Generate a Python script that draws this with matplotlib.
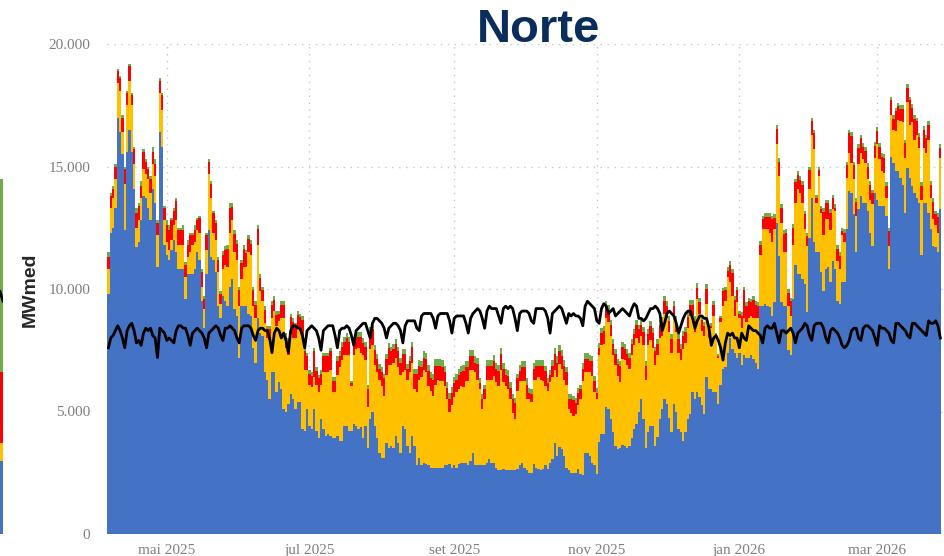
import numpy as np
import pandas as pd
import matplotlib
matplotlib.use("Agg")
import matplotlib.pyplot as plt
import matplotlib.dates as mdates

# geração diária do subsistema Norte (mil MWmed), a partir de 06/04/2025
inicio = "2025-04-06"

hidraulica = [
    9.8, 12.3, 12.5, 13.3, 17.0, 16.4, 15.5,
    12.4, 15.6, 16.5, 15.6, 14.1, 11.7, 11.9,
    12.8, 13.8, 13.7, 13.3, 12.8, 14.1, 13.5,
    10.9, 16.4, 15.8, 11.8, 11.4, 11.2, 11.6,
    12.0, 11.5, 10.8, 10.8, 10.8, 9.6, 10.6,
    10.6, 10.6, 10.8, 11.5, 11.2, 9.5, 8.4,
    10.6, 12.4, 11.3, 11.2, 10.7, 9.3, 8.8,
    9.7, 9.5, 9.3, 10.1, 10.4, 9.2, 8.9,
    7.2, 9.3, 9.3, 9.3, 9.0, 8.9, 7.6,
    7.0, 8.8, 8.2, 8.1, 6.6, 6.3, 5.5,
    6.6, 6.6, 5.8, 6.2, 5.9, 5.1, 5.0,
    5.3, 5.7, 5.5, 5.1, 5.4, 5.4, 4.3,
    4.2, 5.1, 4.4, 4.3, 5.1, 4.2, 3.9,
    4.7, 4.3, 4.0, 4.1, 4.0, 3.9, 3.9,
    4.0, 3.8, 3.8, 4.4, 4.4, 4.2, 4.2,
    4.5, 4.4, 4.3, 4.35, 3.9, 4.4, 3.5,
    4.7, 5.0, 4.4, 3.9, 3.3, 3.1, 3.1,
    3.7, 3.5, 3.6, 3.5, 4.0, 3.7, 3.3,
    4.4, 4.3, 3.6, 3.3, 4.0, 3.6, 2.8,
    3.1, 2.8, 2.9, 2.85, 2.8, 2.7, 2.7,
    2.7, 2.7, 2.7, 2.7, 2.8, 2.8, 2.85,
    2.7, 2.8, 2.7, 2.85, 2.9, 2.9, 2.9,
    2.8, 3.0, 3.3, 2.8, 2.8, 2.8, 2.8,
    2.8, 2.9, 3.05, 2.9, 2.9, 2.7, 2.6,
    2.6, 2.65, 2.6, 2.6, 2.6, 2.6, 2.6,
    2.65, 2.8, 2.9, 2.7, 2.6, 2.5, 2.5,
    2.85, 2.7, 2.65, 2.6, 2.65, 2.8, 2.65,
    2.9, 3.05, 3.7, 3.2, 3.55, 3.45, 3.2,
    2.7, 2.6, 2.5, 2.5, 2.5, 2.65, 2.45,
    2.4, 3.3, 3.3, 3.2, 2.9, 2.8, 2.45,
    3.75, 4.1, 4.1, 5.2, 5.1, 4.7, 4.15,
    3.6, 3.45, 3.5, 3.65, 3.6, 3.5, 3.6,
    3.9, 4.3, 4.5, 5.0, 5.5, 4.7, 3.5,
    4.15, 4.4, 4.4, 3.6, 3.95, 4.7, 5.1,
    5.5, 5.3, 4.75, 4.15, 5.3, 5.0, 4.3,
    4.15, 3.8, 4.15, 4.7, 4.9, 5.8, 5.5,
    5.8, 5.6, 5.25, 4.9, 6.4, 5.9, 5.9,
    5.8, 5.8, 5.3, 6.1, 6.75, 6.8, 7.4,
    8.0, 7.55, 7.4, 7.2, 7.4, 6.9, 7.3,
    7.2, 7.2, 7.3, 7.15, 7.0, 6.75, 9.3,
    9.3, 9.4, 9.3, 9.25, 8.9, 9.45, 12.7,
    11.35, 9.45, 9.3, 9.3, 7.5, 7.3, 9.6,
    11.0, 10.6, 10.6, 10.4, 10.2, 9.05, 12.1,
    13.7, 11.9, 11.5, 11.5, 10.7, 9.9, 10.8,
    10.9, 10.3, 11.15, 10.8, 9.5, 9.4, 10.3,
    10.3, 12.45, 14.0, 13.9, 13.05, 11.5, 13.25,
    13.8, 13.5, 13.5, 13.2, 12.3, 11.75, 13.9,
    13.65, 13.4, 13.4, 13.4, 13.0, 10.8, 15.4,
    15.15, 14.8, 14.8, 14.55, 14.25, 13.1, 14.95,
    14.55, 14.2, 13.9, 13.7, 13.5, 11.4, 13.5,
    13.5, 13.1, 12.45, 11.75, 11.7, 11.5, 13.25,
]

termica = [
    1.0, 1.0, 1.2, 1.2, 1.4, 1.7, 0.9,
    1.9, 1.9, 2.0, 1.9, 1.0, 0.8, 0.9,
    0.9, 1.1, 1.0, 1.2, 1.1, 1.0, 1.1,
    1.3, 1.6, 1.5, 1.0, 0.5, 0.4, 0.4,
    0.6, 1.3, 1.0, 1.0, 1.0, 0.9, 0.7,
    0.9, 1.2, 1.1, 0.9, 1.1, 0.6, 0.8,
    1.0, 2.3, 2.4, 1.1, 1.3, 1.4, 0.6,
    1.1, 1.5, 1.6, 2.2, 2.4, 2.3, 2.3,
    2.1, 1.1, 1.6, 1.6, 2.5, 2.5, 1.7,
    1.8, 3.0, 1.7, 1.4, 2.0, 1.7, 2.4,
    2.2, 2.5, 2.7, 2.5, 2.9, 3.7, 2.6,
    2.0, 2.7, 2.5, 2.9, 3.0, 2.9, 3.8,
    2.5, 1.6, 1.7, 1.7, 1.3, 1.9, 1.9,
    1.4, 2.3, 2.6, 2.5, 2.7, 1.9, 1.9,
    2.5, 3.0, 3.3, 2.9, 2.9, 3.1, 1.85,
    2.8, 3.15, 3.3, 3.05, 3.4, 2.7, 1.7,
    2.85, 2.7, 2.5, 2.7, 3.0, 2.95, 2.55,
    2.8, 3.4, 3.3, 3.5, 3.2, 3.1, 3.2,
    2.2, 2.4, 2.7, 3.3, 3.0, 2.3, 3.0,
    3.2, 3.6, 3.8, 3.75, 3.25, 3.15, 2.95,
    3.4, 3.6, 3.55, 3.55, 3.25, 2.7, 2.15,
    2.55, 2.8, 3.1, 3.05, 3.15, 3.1, 3.35,
    3.45, 3.7, 3.4, 3.8, 3.5, 3.1, 2.3,
    2.7, 3.4, 3.25, 3.4, 3.55, 3.5, 3.45,
    4.1, 3.55, 3.45, 3.3, 2.9, 2.35, 2.1,
    3.2, 3.45, 3.35, 3.55, 2.9, 3.0, 2.9,
    3.45, 3.6, 3.75, 3.7, 3.6, 3.25, 3.2,
    3.3, 3.35, 3.0, 3.2, 3.4, 3.3, 3.1,
    3.4, 2.5, 2.45, 2.3, 2.4, 2.6, 3.05,
    3.85, 3.3, 3.3, 3.4, 3.55, 3.0, 3.05,
    3.55, 3.6, 3.65, 3.6, 3.55, 3.4, 3.15,
    3.3, 3.0, 2.7, 3.5, 3.5, 3.4, 3.15,
    3.4, 3.4, 3.5, 2.8, 2.6, 3.0, 2.8,
    3.55, 3.5, 3.2, 3.3, 3.35, 3.3, 3.0,
    3.5, 3.5, 3.5, 3.25, 3.55, 3.25, 3.1,
    2.95, 3.75, 3.65, 3.7, 4.0, 3.1, 2.75,
    3.8, 3.4, 3.05, 3.2, 3.0, 2.1, 2.5,
    3.1, 2.2, 1.9, 2.55, 2.55, 2.7, 3.1,
    2.3, 2.15, 1.5, 2.25, 1.4, 1.5, 1.5,
    1.45, 1.6, 1.6, 1.65, 1.8, 2.05, 2.1,
    3.15, 3.05, 3.15, 3.05, 3.0, 3.0, 3.2,
    3.25, 3.25, 2.2, 2.2, 1.8, 1.6, 2.2,
    2.5, 3.5, 3.3, 3.1, 2.25, 2.7, 2.0,
    2.6, 3.8, 2.0, 3.1, 2.4, 2.3, 2.05,
    1.95, 2.1, 2.1, 2.4, 1.65, 1.4, 1.9,
    1.6, 2.1, 1.55, 1.25, 1.45, 1.5, 1.85,
    1.75, 1.8, 1.65, 1.3, 1.35, 1.7, 1.45,
    2.25, 1.9, 1.4, 1.35, 0.7, 0.95, 1.7,
    1.35, 1.65, 2.1, 2.3, 2.55, 2.25, 2.7,
    2.15, 2.6, 2.2, 2.6, 2.25, 2.25, 2.25,
    2.05, 3.0, 1.25, 1.1, 0.9, 0.8, 2.1,
]

solar = [
    0.5, 0.5, 0.4, 0.5, 0.5, 0.5, 0.6,
    0.6, 0.5, 0.6, 0.4, 0.6, 0.6, 0.6,
    0.5, 0.7, 0.5, 0.4, 0.6, 0.5, 0.5,
    0.5, 0.5, 0.6, 0.5, 0.7, 0.8, 0.8,
    0.6, 0.8, 0.6, 0.6, 0.6, 0.5, 0.5,
    0.7, 0.4, 0.5, 0.4, 0.6, 0.6, 0.4,
    0.6, 0.5, 0.6, 0.8, 0.7, 0.5, 0.4,
    0.6, 0.6, 0.75, 1.0, 0.55, 0.75, 0.65,
    0.65, 0.65, 0.75, 0.55, 0.55, 0.45, 0.65,
    0.55, 0.65, 0.55, 0.45, 0.55, 0.35, 0.45,
    0.55, 0.45, 0.45, 0.3, 0.55, 0.55, 0.45,
    0.55, 0.45, 0.65, 0.45, 0.55, 0.55, 0.65,
    0.75, 0.55, 0.45, 0.45, 1.05, 0.55, 0.55,
    0.45, 0.65, 0.65, 0.65, 0.75, 0.45, 0.45,
    0.55, 0.45, 0.55, 0.55, 0.7, 0.55, 0.1,
    0.55, 0.45, 0.45, 0.65, 0.5, 0.55, 0.7,
    0.7, 0.65, 0.6, 0.55, 0.45, 0.55, 0.7,
    0.65, 0.7, 0.55, 0.55, 0.55, 0.65, 0.5,
    0.75, 0.65, 0.45, 0.45, 0.65, 0.65, 0.75,
    0.55, 0.4, 0.5, 0.55, 0.6, 0.5, 0.65,
    0.75, 0.55, 0.6, 0.55, 0.55, 0.45, 0.5,
    0.5, 0.55, 0.5, 0.6, 0.55, 0.65, 0.55,
    0.55, 0.55, 0.55, 0.4, 0.65, 0.25, 0.4,
    0.4, 0.55, 0.55, 0.55, 0.6, 0.55, 0.6,
    0.65, 0.55, 0.45, 0.55, 0.45, 0.55, 0.65,
    0.5, 0.4, 0.55, 0.55, 0.6, 0.25, 0.3,
    0.45, 0.55, 0.45, 0.55, 0.6, 0.6, 0.3,
    0.3, 0.45, 0.65, 0.6, 0.5, 0.5, 0.55,
    0.5, 0.4, 0.55, 0.65, 0.45, 0.5, 0.4,
    0.5, 0.55, 0.55, 0.45, 0.6, 0.45, 0.25,
    0.3, 0.5, 0.55, 0.5, 0.5, 0.45, 0.45,
    0.45, 0.5, 0.65, 0.5, 0.45, 0.45, 0.45,
    0.45, 0.45, 0.55, 0.55, 0.45, 0.55, 0.55,
    0.45, 0.6, 0.6, 0.55, 0.45, 0.55, 0.55,
    0.5, 0.5, 0.45, 0.55, 0.45, 0.45, 0.55,
    0.45, 0.55, 0.45, 0.45, 0.45, 0.45, 0.45,
    0.45, 0.45, 0.45, 0.4, 0.6, 0.4, 0.1,
    0.45, 0.1, 0.05, 0.15, 0.6, 0.45, 0.25,
    0.7, 0.95, 0.65, 0.5, 0.2, 0.5, 1.15,
    0.65, 0.7, 0.55, 0.75, 0.55, 0.5, 0.4,
    0.4, 0.5, 0.5, 0.65, 0.95, 0.45, 0.65,
    0.6, 0.6, 0.75, 0.8, 0.55, 0.6, 0.7,
    0.85, 0.55, 0.55, 0.75, 0.6, 0.4, 0.75,
    0.55, 0.65, 0.2, 0.25, 0.15, 0.95, 0.65,
    0.65, 0.7, 0.45, 0.1, 0.5, 0.55, 0.15,
    0.4, 0.5, 0.8, 1.1, 0.55, 0.55, 0.65,
    0.6, 0.5, 0.5, 0.5, 0.6, 0.45, 0.5,
    0.55, 0.5, 0.6, 0.6, 0.5, 0.6, 0.6,
    0.45, 0.8, 0.55, 0.5, 0.55, 0.6, 0.55,
    1.0, 0.6, 0.85, 0.55, 0.45, 0.55, 0.75,
    0.6, 0.6, 0.55, 0.7, 0.45, 0.65, 0.4,
]

eolica = [
    0.2, 0.1, 0.1, 0.1, 0.1, 0.1, 0.1,
    0.1, 0.1, 0.1, 0.1, 0.1, 0.2, 0.1,
    0.2, 0.1, 0.1, 0.1, 0.1, 0.2, 0.2,
    0.1, 0.1, 0.1, 0.1, 0.2, 0.2, 0.1,
    0.1, 0.1, 0.1, 0.1, 0.2, 0.1, 0.2,
    0.1, 0.1, 0.2, 0.1, 0.1, 0.1, 0.1,
    0.1, 0.1, 0.1, 0.1, 0.1, 0.1, 0.1,
    0.15, 0.15, 0.15, 0.2, 0.15, 0.15, 0.15,
    0.15, 0.15, 0.15, 0.15, 0.15, 0.15, 0.15,
    0.15, 0.15, 0.15, 0.15, 0.15, 0.15, 0.15,
    0.15, 0.15, 0.15, 0.1, 0.15, 0.15, 0.15,
    0.15, 0.15, 0.15, 0.15, 0.15, 0.15, 0.15,
    0.15, 0.15, 0.15, 0.15, 0.15, 0.15, 0.15,
    0.15, 0.15, 0.15, 0.15, 0.15, 0.15, 0.15,
    0.2, 0.2, 0.2, 0.2, 0.2, 0.2, 0.1,
    0.2, 0.2, 0.2, 0.2, 0.2, 0.2, 0.2,
    0.2, 0.2, 0.2, 0.2, 0.2, 0.2, 0.2,
    0.2, 0.2, 0.2, 0.2, 0.2, 0.2, 0.2,
    0.2, 0.2, 0.2, 0.2, 0.2, 0.2, 0.2,
    0.25, 0.25, 0.25, 0.25, 0.25, 0.25, 0.25,
    0.3, 0.3, 0.3, 0.3, 0.25, 0.25, 0.25,
    0.25, 0.25, 0.25, 0.25, 0.25, 0.25, 0.25,
    0.25, 0.25, 0.25, 0.25, 0.25, 0.2, 0.2,
    0.2, 0.25, 0.25, 0.25, 0.25, 0.25, 0.25,
    0.25, 0.25, 0.25, 0.25, 0.25, 0.2, 0.2,
    0.2, 0.25, 0.25, 0.25, 0.25, 0.2, 0.2,
    0.25, 0.25, 0.25, 0.25, 0.25, 0.2, 0.2,
    0.2, 0.25, 0.25, 0.25, 0.25, 0.25, 0.25,
    0.2, 0.2, 0.2, 0.2, 0.2, 0.2, 0.2,
    0.25, 0.25, 0.25, 0.25, 0.2, 0.2, 0.2,
    0.2, 0.2, 0.2, 0.2, 0.2, 0.2, 0.2,
    0.2, 0.2, 0.2, 0.2, 0.2, 0.2, 0.2,
    0.2, 0.2, 0.2, 0.2, 0.2, 0.2, 0.2,
    0.2, 0.2, 0.2, 0.2, 0.2, 0.2, 0.2,
    0.2, 0.2, 0.2, 0.2, 0.2, 0.2, 0.2,
    0.2, 0.2, 0.2, 0.2, 0.2, 0.2, 0.2,
    0.2, 0.2, 0.2, 0.15, 0.2, 0.15, 0.1,
    0.15, 0.1, 0.1, 0.1, 0.15, 0.15, 0.15,
    0.15, 0.15, 0.15, 0.15, 0.1, 0.15, 0.15,
    0.15, 0.15, 0.15, 0.15, 0.15, 0.15, 0.15,
    0.15, 0.15, 0.15, 0.15, 0.15, 0.15, 0.15,
    0.15, 0.15, 0.15, 0.15, 0.15, 0.15, 0.15,
    0.15, 0.15, 0.15, 0.15, 0.15, 0.15, 0.15,
    0.15, 0.15, 0.15, 0.15, 0.15, 0.15, 0.15,
    0.15, 0.15, 0.15, 0.15, 0.15, 0.15, 0.15,
    0.15, 0.15, 0.15, 0.15, 0.15, 0.15, 0.15,
    0.15, 0.15, 0.15, 0.15, 0.15, 0.15, 0.15,
    0.15, 0.15, 0.15, 0.15, 0.15, 0.15, 0.15,
    0.15, 0.15, 0.15, 0.15, 0.15, 0.15, 0.15,
    0.15, 0.15, 0.15, 0.15, 0.15, 0.15, 0.15,
    0.15, 0.15, 0.15, 0.15, 0.15, 0.15, 0.15,
]

carga = [
    7.6, 8.0, 8.1, 8.3, 8.5, 8.3, 8.0,
    7.6, 8.3, 8.5, 8.6, 8.3, 7.8, 7.9,
    7.7, 8.2, 8.4, 8.3, 8.4, 8.1, 8.0,
    7.2, 8.4, 8.3, 8.2, 7.9, 8.0, 7.9,
    7.8, 8.3, 8.5, 8.5, 8.4, 8.4, 8.1,
    7.7, 8.2, 8.3, 8.4, 8.3, 8.2, 8.0,
    7.6, 8.2, 8.3, 8.4, 8.5, 8.4, 8.1,
    7.9, 8.4, 8.4, 8.5, 8.4, 8.3, 8.0,
    7.8, 8.4, 8.5, 8.5, 8.5, 8.4, 8.1,
    7.9, 8.3, 8.4, 8.4, 8.3, 8.3, 8.0,
    7.4, 8.2, 8.4, 8.3, 8.0, 8.2, 7.9,
    7.4, 8.3, 8.5, 8.5, 8.4, 8.4, 8.1,
    7.6, 8.3, 8.4, 8.5, 8.4, 8.3, 8.0,
    7.5, 8.3, 8.4, 8.5, 8.5, 8.5, 8.1,
    7.6, 8.3, 8.4, 8.4, 8.5, 8.4, 8.1,
    7.7, 8.3, 8.4, 8.5, 8.6, 8.6, 8.3,
    8.0, 8.6, 8.8, 8.8, 8.7, 8.6, 8.4,
    8.0, 8.4, 8.5, 8.6, 8.6, 8.5, 8.3,
    7.8, 8.5, 8.7, 8.7, 8.7, 8.7, 8.4,
    8.3, 8.9, 9.0, 9.0, 9.0, 9.0, 8.8,
    8.4, 8.9, 9.0, 9.0, 9.0, 9.0, 8.7,
    8.2, 8.8, 8.9, 8.9, 8.9, 8.9, 8.6,
    8.2, 8.8, 9.0, 9.1, 9.2, 9.1, 8.8,
    8.4, 9.1, 9.3, 9.2, 9.2, 9.2, 8.9,
    8.6, 9.2, 9.3, 9.2, 9.3, 9.2, 8.8,
    8.3, 9.0, 9.1, 9.1, 9.1, 9.0, 8.7,
    8.6, 9.2, 9.2, 9.2, 9.2, 9.1, 8.8,
    8.2, 9.0, 9.1, 9.2, 9.3, 9.2, 8.9,
    8.6, 9.0, 8.9, 9.0, 8.9, 8.9, 8.8,
    8.5, 9.3, 9.5, 9.4, 9.3, 9.2, 8.7,
    8.6, 9.2, 9.4, 9.3, 9.0, 9.1, 9.2,
    8.9, 9.0, 9.1, 9.2, 9.1, 9.0, 8.9,
    9.2, 9.4, 9.3, 8.8, 8.8, 8.7, 8.8,
    9.0, 9.2, 9.2, 9.3, 9.2, 9.0, 8.3,
    8.6, 9.0, 9.1, 9.0, 8.9, 8.6, 8.2,
    8.5, 8.8, 9.0, 9.1, 9.1, 8.8, 8.4,
    8.7, 8.9, 8.9, 8.8, 8.8, 8.4, 7.7,
    8.0, 8.1, 7.9, 7.6, 7.1, 7.8, 8.2,
    8.1, 8.2, 8.0, 8.0, 7.6, 8.2, 8.0,
    7.9, 8.5, 8.4, 8.3, 8.3, 8.2, 8.1,
    7.8, 8.4, 8.5, 8.4, 8.4, 8.6, 8.2,
    7.8, 8.3, 8.3, 8.2, 8.3, 8.4, 8.2,
    7.8, 8.2, 8.3, 8.4, 8.6, 8.5, 8.1,
    7.9, 8.5, 8.6, 8.6, 8.6, 8.4, 8.0,
    7.8, 8.3, 8.4, 8.3, 8.2, 8.0, 7.7,
    7.6, 7.7, 7.9, 8.3, 8.4, 8.4, 8.0,
    7.9, 8.4, 8.5, 8.5, 8.4, 8.3, 8.0,
    7.7, 8.5, 8.4, 8.4, 8.3, 8.2, 7.9,
    7.8, 8.6, 8.6, 8.5, 8.4, 8.3, 8.1,
    8.0, 8.6, 8.6, 8.5, 8.4, 8.3, 8.2,
    8.1, 8.7, 8.6, 8.6, 8.7, 8.5, 8.0,
]

# borda da barra do painel vizinho, cortada na margem esquerda
vizinho = [3.0, 0.7, 2.9, 7.9]
vizinho_carga = [9.9, 9.5]

ticks = ["2025-05-01", "2025-07-01", "2025-09-01", "2025-11-01", "2026-01-01", "2026-03-01"]
tick_labels = ["mai 2025", "jul 2025", "set 2025", "nov 2025", "jan 2026", "mar 2026"]
y_ticks = [0, 5000, 10000, 15000, 20000]

cores = ["#4472C4", "#FFC000", "#FF0000", "#70AD47"]

dias = pd.date_range(inicio, periods=len(hidraulica), freq="D")
df = pd.DataFrame({
    "hidraulica": hidraulica,
    "termica": termica,
    "solar": solar,
    "eolica": eolica,
    "carga": carga,
}, index=dias) * 1000

W, H = 945, 556
fig = plt.figure(figsize=(W / 100, H / 100), dpi=100)
ax = fig.add_axes([107 / W, 22 / H, 1 - 107 / W, 490 / H])

x = mdates.date2num(dias)
base = np.zeros(len(df))
for col, cor in zip(["hidraulica", "termica", "solar", "eolica"], cores):
    ax.bar(x, df[col].values, width=1.0, bottom=base, color=cor, linewidth=0, zorder=2)
    base = base + df[col].values
ax.plot(x, df["carga"].values, color="black", lw=2.0, zorder=3)

ax.set_xlim(x[0] - 0.6, mdates.date2num(pd.Timestamp("2026-03-30")))
ax.set_ylim(0, 20000)
ax.set_xticks(mdates.date2num(pd.to_datetime(ticks)))
ax.set_xticklabels(tick_labels)
ax.set_yticks(y_ticks)
ax.set_yticklabels(["0" if v == 0 else f"{v:,}".replace(",", ".") for v in y_ticks])
for lab in ax.get_xticklabels() + ax.get_yticklabels():
    lab.set_family("Liberation Serif")
ax.tick_params(length=0, colors="#7f7f7f", labelsize=11)
ax.tick_params(axis="x", pad=7)
ax.tick_params(axis="y", pad=12)
ax.grid(color="#c8c8c8", linestyle=(0, (1, 4)), lw=1.0, zorder=0)
for s in ax.spines.values():
    s.set_visible(False)

fig.text(539 / W, 1 - 30 / H, "Norte", ha="center", va="center", fontsize=34,
         fontweight="bold", color="#0B2D5B", family="Liberation Sans")
fig.text(30 / W, 1 - 290 / H, "MWmed", rotation=90, ha="center", va="center",
         fontsize=14, fontweight="bold", color="#262626", family="Liberation Sans")

# tira do painel vizinho
ax2 = fig.add_axes([0, 22 / H, 3 / W, 490 / H])
b = 0
for v, cor in zip(vizinho, cores):
    ax2.bar([0], [v * 1000], width=1.0, bottom=b, color=cor, linewidth=0)
    b += v * 1000
ax2.plot([-0.5, 0.5], [c * 1000 for c in vizinho_carga], color="black", lw=2.0)
ax2.set_xlim(-0.5, 0.5)
ax2.set_ylim(0, 20000)
ax2.axis("off")

fig.savefig("out.png", dpi=100)
